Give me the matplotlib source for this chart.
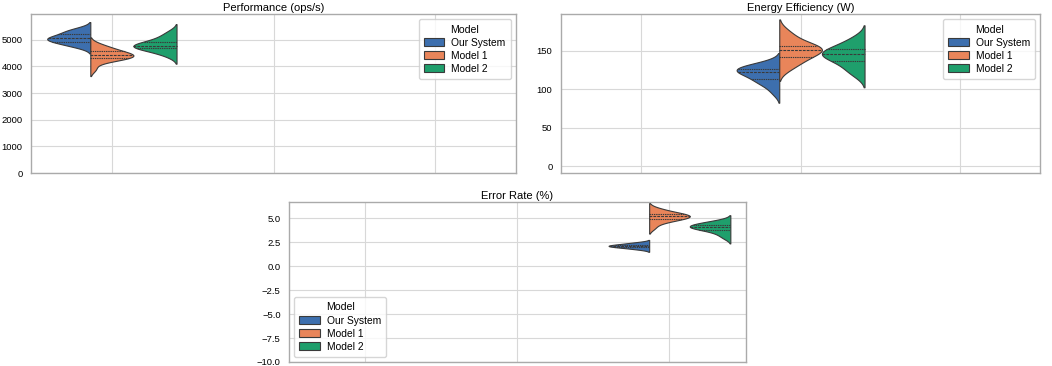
import pandas as pd
import matplotlib
matplotlib.use('Agg')
import matplotlib.pyplot as plt
import seaborn as sns

metrics = ['Performance (ops/s)', 'Energy Efficiency (W)', 'Error Rate (%)']
models = ['Our System', 'Model 1', 'Model 2']
colors = ['#3D6FAE', '#E9855A', '#1F9F6C']

# samples
perf_ours = [4720, 4800, 4860, 4900, 4950, 5000, 5030, 5050, 5060, 5100, 5180, 5230, 5290, 5350, 5420]
perf_m1 = [3900, 4180, 4250, 4290, 4330, 4360, 4390, 4420, 4440, 4480, 4530, 4590, 4640, 4720, 4820]
perf_m2 = [4380, 4520, 4580, 4640, 4700, 4740, 4750, 4770, 4800, 4840, 4900, 4960, 5050, 5150, 5300]

energy_ours = [95, 104, 108, 111, 114, 117, 120, 122, 124, 125, 126, 127, 129, 131, 134]
energy_m1 = [126, 132, 137, 140, 143, 147, 150, 151, 152, 153, 155, 158, 162, 168, 175]
energy_m2 = [118, 124, 129, 134, 138, 141, 143, 145, 146, 148, 150, 153, 156, 161, 167]

error_ours = [1.75, 1.85, 1.92, 1.98, 2.02, 2.06, 2.10, 2.13, 2.16, 2.19, 2.23, 2.28, 2.35, 2.42, 2.50]
error_m1 = [4.0, 4.5, 4.7, 4.85, 4.95, 5.05, 5.15, 5.2, 5.25, 5.3, 5.4, 5.5, 5.6, 5.8, 6.0]
error_m2 = [2.95, 3.3, 3.55, 3.75, 3.85, 3.95, 4.05, 4.1, 4.15, 4.2, 4.3, 4.4, 4.5, 4.6, 4.75]

samples = {
    metrics[0]: [perf_ours, perf_m1, perf_m2],
    metrics[1]: [energy_ours, energy_m1, energy_m2],
    metrics[2]: [error_ours, error_m1, error_m2],
}

rows = []
for m in metrics:
    for model, vals in zip(models, samples[m]):
        for v in vals:
            rows.append({'Metric': m, 'Model': model, 'Value': v})
df = pd.DataFrame(rows)

sns.set_style('whitegrid')
plt.rcParams['font.family'] = ['Liberation Sans', 'DejaVu Sans']
plt.rcParams['text.color'] = 'black'
plt.rcParams['ytick.color'] = 'black'

fig = plt.figure(figsize=(10.52, 3.66), dpi=100)
ax1 = fig.add_axes([0.0295, 0.527, 0.461, 0.434])
ax2 = fig.add_axes([0.533, 0.527, 0.456, 0.434])
ax3 = fig.add_axes([0.2747, 0.011, 0.434, 0.437])
axes = [ax1, ax2, ax3]
ylims = [(0, 5950), (-9, 197), (-10, 6.7)]
legend_locs = ['upper right', 'upper right', 'lower left']

for ax, m, yl, loc in zip(axes, metrics, ylims, legend_locs):
    sub = df[df.Metric == m]
    sns.violinplot(data=sub, x='Metric', y='Value', hue='Model', order=metrics,
                   hue_order=models, palette=colors, split=True, inner='quart',
                   linewidth=0.8, linecolor='#3a3a3a', saturation=1, ax=ax)
    ax.set_title(m, fontsize=8, pad=2.5, color='black')
    ax.set_xlabel('')
    ax.set_ylabel('')
    ax.set_xlim(-0.5, 2.5)
    ax.set_ylim(*yl)
    ax.tick_params(axis='x', labelbottom=False, length=0)
    ax.tick_params(axis='y', labelsize=6.8, length=0, pad=6, labelcolor='black')
    ax.grid(True, color='#d8d8d8', linewidth=0.8)
    for s in ax.spines.values():
        s.set_color('#aaaaaa')
        s.set_linewidth(1.0)
    sns.move_legend(ax, loc, title='Model', fontsize=7.4, title_fontsize=7.6,
                    handlelength=2.0, handleheight=0.8, borderpad=0.5,
                    labelspacing=0.3, handletextpad=0.7)

fig.savefig('out.png', dpi=100)
